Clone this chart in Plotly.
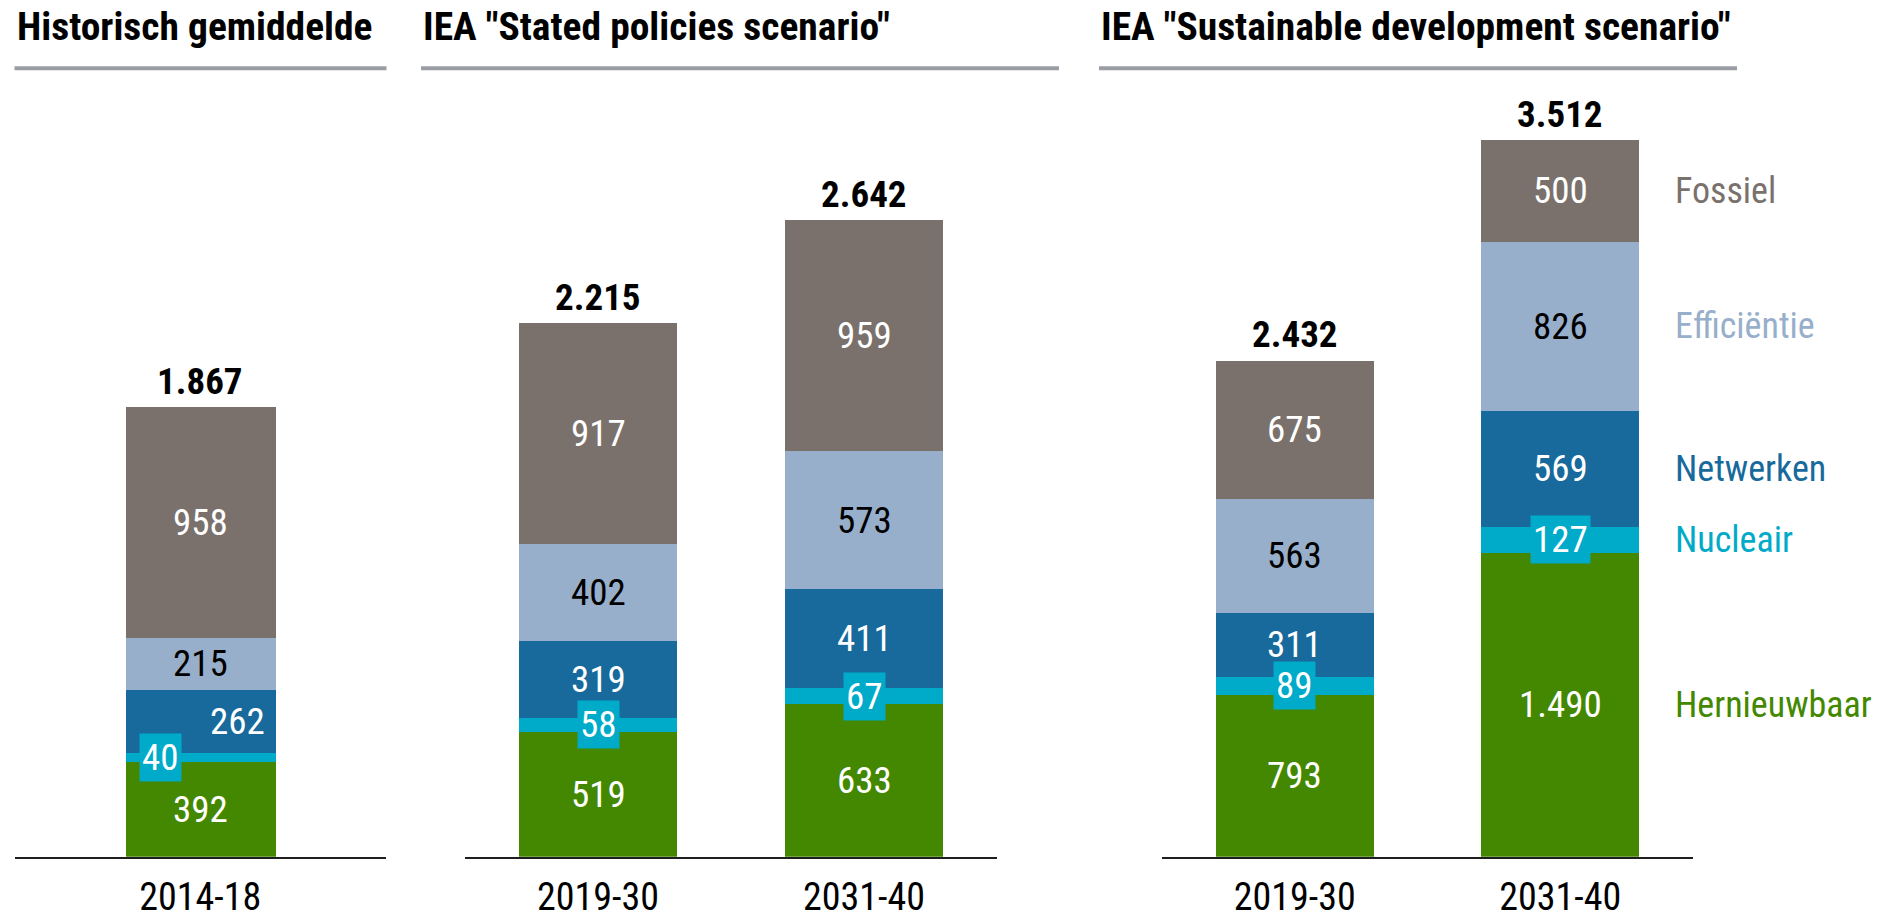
import plotly.graph_objects as go

W, H = 1894, 911
OFF = 8  # page body margin in the browser

# ---------------- data ----------------
cats_hist = ["2014-18"]
cats_steps = ["2019-30", "2031-40"]
cats_sds = ["2019-30", "2031-40"]

series_names = ["Hernieuwbaar", "Nucleair", "Netwerken", "Efficiëntie", "Fossiel"]

hernieuwbaar_hist = [392]
nucleair_hist = [40]
netwerken_hist = [262]
efficientie_hist = [215]
fossiel_hist = [958]
totaal_hist = [1867]

hernieuwbaar_steps = [519, 633]
nucleair_steps = [58, 67]
netwerken_steps = [319, 411]
efficientie_steps = [402, 573]
fossiel_steps = [917, 959]
totaal_steps = [2215, 2642]

hernieuwbaar_sds = [793, 1490]
nucleair_sds = [89, 127]
netwerken_sds = [311, 569]
efficientie_sds = [563, 826]
fossiel_sds = [675, 500]
totaal_sds = [2432, 3512]

panel_titles = ["Historisch gemiddelde", 'IEA "Stated policies scenario"',
                'IEA "Sustainable development scenario"']

# ---------------- style ----------------
colors = {
    "Hernieuwbaar": "#438800",
    "Nucleair": "#00aac9",
    "Netwerken": "#176a9b",
    "Efficiëntie": "#98afcb",
    "Fossiel": "#7a716c",
}
label_colors = {
    "Hernieuwbaar": "white",
    "Nucleair": "white",
    "Netwerken": "white",
    "Efficiëntie": "black",
    "Fossiel": "white",
}
FONT = "Liberation Sans Narrow, Arial Narrow, Roboto Condensed, Liberation Sans, sans-serif"
VAL_SIZE = 37
TOT_SIZE = 37
TITLE_SIZE = 39.5
CAT_SIZE = 38
LEG_SIZE = 36


def fmt(v):
    return f"{v:,}".replace(",", ".")


def px_x(p):
    return (p - OFF) / W


def px_y(p):
    return 1 - (p - OFF) / H


y_bottom_px, y_top_px = 868, 100
ydom = [px_y(y_bottom_px), px_y(y_top_px)]
plot_h = y_bottom_px - y_top_px
scaleA = 0.2441
scaleB = 0.2068

panels = [
    dict(cats=cats_hist, data=[hernieuwbaar_hist, nucleair_hist, netwerken_hist, efficientie_hist, fossiel_hist],
         tot=totaal_hist, xd=[14.5, 386], width=0.403, scale=scaleA),
    dict(cats=cats_steps, data=[hernieuwbaar_steps, nucleair_steps, netwerken_steps, efficientie_steps, fossiel_steps],
         tot=totaal_steps, xd=[465, 997], width=0.594, scale=scaleA),
    dict(cats=cats_sds, data=[hernieuwbaar_sds, nucleair_sds, netwerken_sds, efficientie_sds, fossiel_sds],
         tot=totaal_sds, xd=[1162, 1693], width=0.595, scale=scaleB),
]

fig = go.Figure()
annotations = []
shapes = []

for i, p in enumerate(panels):
    n = i + 1
    xa = "x" if n == 1 else f"x{n}"
    ya = "y" if n == 1 else f"y{n}"
    for name, vals in zip(series_names, p["data"]):
        fig.add_trace(go.Bar(
            x=p["cats"], y=vals, name=name, xaxis=xa, yaxis=ya,
            marker=dict(color=colors[name], line=dict(width=0)),
            width=p["width"], showlegend=False, hoverinfo="skip",
        ))
    # segment labels
    for j, cat in enumerate(p["cats"]):
        base = 0
        for name, vals in zip(series_names, p["data"]):
            v = vals[j]
            mid = base + v / 2
            base += v
            ann = dict(x=cat, y=mid, xref=xa, yref=ya, text=fmt(v), showarrow=False,
                       font=dict(family=FONT, size=VAL_SIZE, color=label_colors[name]),
                       xanchor="center", yanchor="middle")
            if name == "Nucleair":
                ann.update(bgcolor=colors["Nucleair"], borderpad=2)
                if n == 1:
                    ann["xshift"] = -40
            if name == "Netwerken" and n == 1:
                ann["xshift"] = 37
            annotations.append(ann)
        annotations.append(dict(
            x=cat, y=p["tot"][j], xref=xa, yref=ya, text=f"<b>{fmt(p['tot'][j])}</b>",
            showarrow=False, yanchor="bottom", yshift=2,
            font=dict(family=FONT, size=TOT_SIZE, color="black")))

    xr = [-0.5, len(p["cats"]) - 0.5]
    fig.update_layout(**{
        ("xaxis" if n == 1 else f"xaxis{n}"): dict(
            domain=[px_x(p["xd"][0]), px_x(p["xd"][1])], range=xr, type="category",
            anchor=ya, showline=True, linecolor="#1e1e1e", linewidth=2,
            showgrid=False, zeroline=False, ticks="", fixedrange=True,
            ticklabelstandoff=6,
            tickfont=dict(family=FONT, size=CAT_SIZE, color="black")),
        ("yaxis" if n == 1 else f"yaxis{n}"): dict(
            domain=ydom, range=[0, plot_h / p["scale"]], anchor=xa,
            visible=False, showgrid=False, zeroline=False, fixedrange=True),
    })

# headers
header_lines = [(14.5, 386.5), (421, 1059), (1099, 1737)]
for title, (x0, x1) in zip(panel_titles, header_lines):
    annotations.append(dict(x=px_x(x0), y=px_y(53), xref="paper", yref="paper",
                            text=f"<b>{title}</b>", showarrow=False,
                            xanchor="left", yanchor="bottom",
                            font=dict(family=FONT, size=TITLE_SIZE, color="black")))
    shapes.append(dict(type="rect", xref="paper", yref="paper",
                       x0=px_x(x0), x1=px_x(x1), y0=px_y(71), y1=px_y(67),
                       fillcolor="#9a9ea4", line=dict(width=0)))

# legend labels next to last bar
last = panels[2]
base = 0
for name, vals in zip(series_names, last["data"]):
    v = vals[1]
    mid = base + v / 2
    base += v
    annotations.append(dict(x=px_x(1673), y=mid, xref="paper", yref="y3", text=name,
                            showarrow=False, xanchor="left", yanchor="middle",
                            font=dict(family=FONT, size=LEG_SIZE, color=colors[name])))

fig.update_layout(
    width=W, height=H, barmode="stack", bargap=0,
    margin=dict(l=0, r=0, t=0, b=0),
    paper_bgcolor="white", plot_bgcolor="white",
    annotations=annotations, shapes=shapes,
    font=dict(family=FONT),
)

fig.write_html("out.html")
